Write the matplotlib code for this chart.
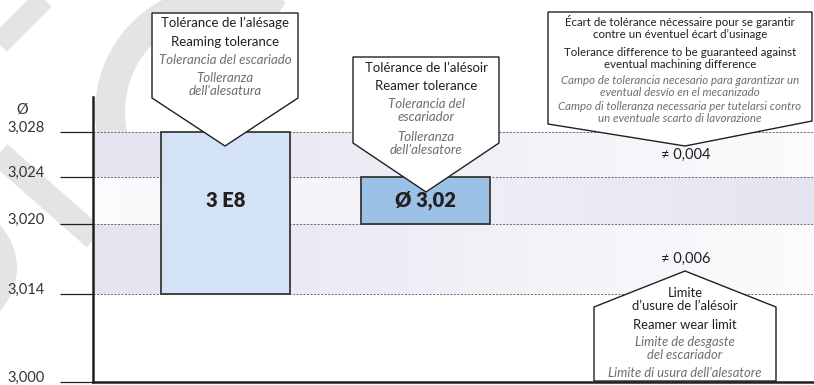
import numpy as np
import matplotlib.pyplot as plt
from matplotlib.patches import Polygon, Wedge
from matplotlib.transforms import IdentityTransform

plt.rcParams['font.family'] = ['Lato', 'DejaVu Sans']

W, H = 814, 385
ink = '#231f20'
grey = '#6d6e71'
lavender = np.array([0.894, 0.890, 0.941])
white = np.array([0.985, 0.985, 0.992])

# diameter ticks (the drawing is not to scale: heights in px above 3,000)
tick_values = [3.000, 3.014, 3.020, 3.024, 3.028]
tick_labels = ['3,000', '3,014', '3,020', '3,024', '3,028']
tick_heights = [0, 88, 158, 205, 250]

# tolerance bars
bar_names = ['3 E8', 'Ø 3,02']
bar_low = [3.014, 3.020]
bar_high = [3.028, 3.024]
bar_colors = ['#d3e2f4', '#9bc1e6']

# shaded bands, lavender on the left (-1) or on the right (+1)
band_low = [3.024, 3.020, 3.014]
band_high = [3.028, 3.024, 3.020]
band_side = [-1, 1, -1]

# gaps written on the right
gap_low = [3.024, 3.014]
gap_high = [3.028, 3.020]

# callout texts: (text, y px, italic?)
callout1 = [("Tolérance de l’alésage", 23, False), ("Reaming tolerance", 42, False),
            ("Tolerancia del escariado", 60, True), ("Tolleranza", 78, True),
            ("dell'alesatura", 91, True)]
callout2 = [("Tolérance de l’alésoir", 68, False), ("Reamer tolerance", 86, False),
            ("Tolerancia del", 104, True), ("escariador", 117, True),
            ("Tolleranza", 137, True), ("dell’alesatore", 150, True)]
callout3 = [("Écart de tolérance nécessaire pour se garantir", 22, False),
            ("contre un éventuel écart d’usinage", 35, False),
            ("Tolerance difference to be guaranteed against", 52, False),
            ("eventual machining difference", 65, False),
            ("Campo de tolerancia necesario para garantizar un", 80, True),
            ("eventual desvío en el mecanizado", 92, True),
            ("Campo di tolleranza necessaria per tutelarsi contro", 107, True),
            ("un eventuale scarto di lavorazione", 119, True)]
callout4 = [("Limite", 293, False), ("d’usure de l’alésoir", 306, False),
            ("Reamer wear limit", 325, False), ("Limite de desgaste", 342, True),
            ("del escariador", 355, True), ("Limite di usura dell’alesatore", 373, True)]

slope = (tick_heights[-1] - tick_heights[-2]) / (tick_values[-1] - tick_values[-2])


def fwd(v):
    v = np.asarray(v, float)
    out = np.interp(v, tick_values, tick_heights)
    return np.where(v > tick_values[-1], tick_heights[-1] + (v - tick_values[-1]) * slope, out)


def inv(h):
    h = np.asarray(h, float)
    out = np.interp(h, tick_heights, tick_values)
    return np.where(h > tick_heights[-1], tick_values[-1] + (h - tick_heights[-1]) / slope, out)


def P(x, y):
    # pixel coords (y down) -> display coords
    return (x, H - y)


fig = plt.figure(figsize=(W / 100, H / 100), dpi=100)
fig.patch.set_facecolor('white')

# faint watermark behind everything
wm = '#e4e4e4'
ident = IdentityTransform()
fig.add_artist(Wedge(P(222, 112), 127, 60, 215, width=30, facecolor=wm, edgecolor='none',
                     transform=ident, zorder=-5))
fig.add_artist(plt.Line2D([P(48, -5)[0], P(-5, 48)[0]], [P(48, -5)[1], P(-5, 48)[1]],
                          color=wm, lw=16, transform=ident, zorder=-5, solid_capstyle='butt'))
fig.add_artist(plt.Line2D([P(-5, 150)[0], P(95, 238)[0]], [P(-5, 150)[1], P(95, 238)[1]],
                          color=wm, lw=18, transform=ident, zorder=-5, solid_capstyle='butt'))
fig.add_artist(Wedge(P(-45, 268), 62, -60, 60, width=22, facecolor=wm, edgecolor='none',
                     transform=ident, zorder=-5))

ax = fig.add_axes([93 / W, 3 / H, (W - 93) / W, 285 / H])
ax.set_facecolor('none')
ax.set_yscale('function', functions=(fwd, inv))
x0, x1 = -0.6625, 2.9425
ax.set_xlim(x0, x1)
ax.set_ylim(3.000, float(inv(285)))

# gradient bands
n = 80
edges = np.linspace(x0, x1, n + 1)
for lo, hi, side in zip(band_low, band_high, band_side):
    t = np.linspace(0, 1, n)
    if side < 0:
        t = 1 - t
    cols = [tuple(white + (lavender - white) * k) for k in t]
    ax.broken_barh([(edges[i], edges[i + 1] - edges[i] + 0.01) for i in range(n)], (lo, hi - lo),
                   facecolors=cols, linewidth=0, antialiased=False, zorder=1)

ax.hlines(tick_values[1:], x0, x1, colors='#707070', linestyles=(0, (2.2, 1.4)), lw=0.7, zorder=2)

xs = np.arange(len(bar_names))
ax.bar(xs, np.array(bar_high) - np.array(bar_low), bottom=bar_low, width=0.645,
       color=bar_colors, edgecolor='#383838', lw=1.3, zorder=3)
label_y = (bar_low[1] + bar_high[1]) / 2
for x, name in zip(xs, bar_names):
    ax.text(x, label_y, name, ha='center', va='center', fontsize=14.5, fontweight='heavy', color=ink,
            zorder=4)

gap_x = 2.3
for lo, hi in zip(gap_low, gap_high):
    ax.text(gap_x, (lo + hi) / 2, '≠ ' + f'{hi - lo:.3f}'.replace('.', ','), ha='center', va='center',
            fontsize=10.5, color=ink, zorder=4)

for side in ['top', 'right']:
    ax.spines[side].set_visible(False)
for side in ['left', 'bottom']:
    ax.spines[side].set_linewidth(1.8)
    ax.spines[side].set_color(ink)
ax.set_xticks([])
ax.set_yticks(tick_values, tick_labels)
ax.yaxis.set_minor_locator(plt.NullLocator())
ax.tick_params(axis='y', direction='out', length=24, width=0.9, color=ink, pad=11,
               labelsize=10.5, labelcolor='#333333')
for lab in ax.get_yticklabels():
    lab.set_verticalalignment('baseline')
fig.text(22 / W, 1 - 110 / H, 'Ø', ha='center', va='center', fontsize=10.5, color='#333333')


def callout(pts, lines, cx, size):
    fig.add_artist(Polygon([P(*p) for p in pts], closed=True, facecolor='white', edgecolor=ink,
                           lw=1.0, transform=ident, zorder=5))
    for s, y, it in lines:
        fig.text(cx / W, 1 - y / H, s, ha='center', va='center', fontsize=size,
                 color=grey if it else ink, style='italic' if it else 'normal', zorder=6)


callout([(152, 13), (298, 13), (298, 98), (225, 146), (152, 98)], callout1, 225, 9.5)
callout([(353, 57), (499, 57), (499, 143), (426, 192), (353, 143)], callout2, 426, 9.5)
callout([(548, 12), (812, 12), (812, 121), (685, 146), (548, 124)], callout3, 680, 8.3)
callout([(594, 381), (594, 307), (685, 271), (776, 307), (776, 381)], callout4, 685, 9.4)

fig.savefig('out.png', dpi=100)
